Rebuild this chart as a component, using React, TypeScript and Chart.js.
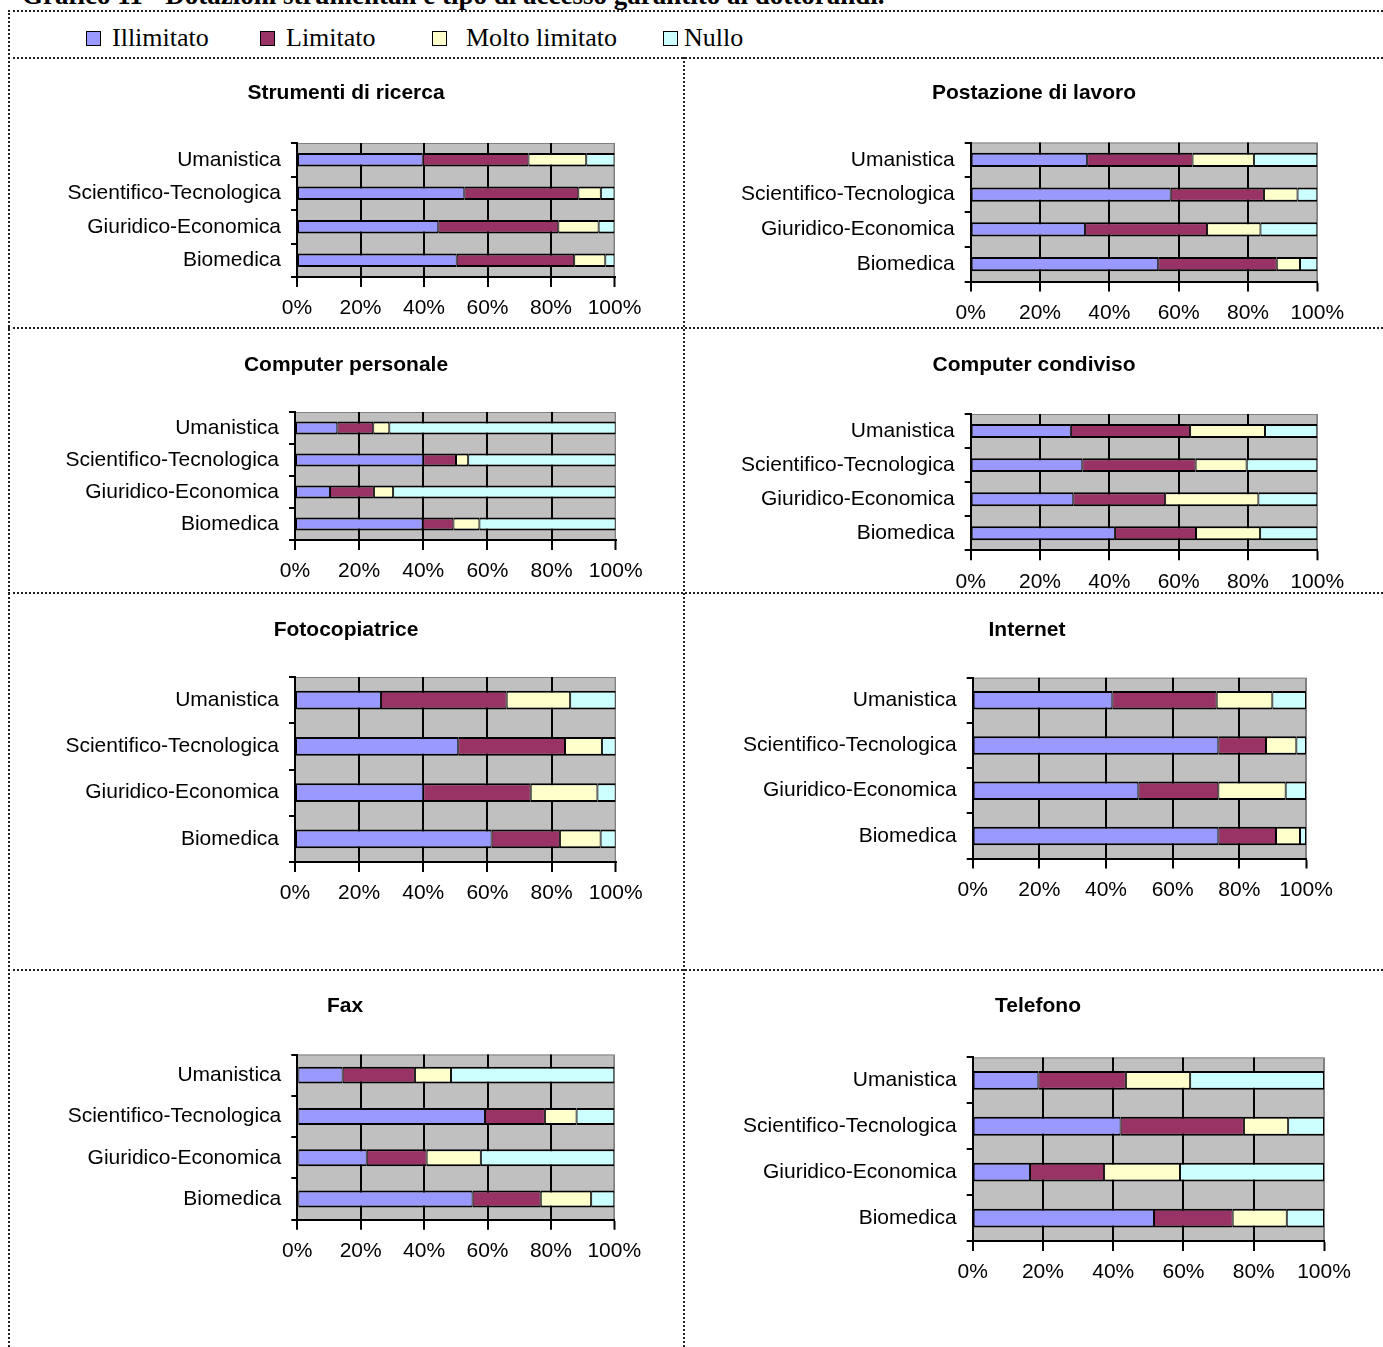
import React, { useEffect, useRef } from 'react';
import { Chart, registerables } from 'chart.js';

Chart.register(...registerables);

// ---------------- DATA ----------------
const categories = ['Umanistica', 'Scientifico-Tecnologica', 'Giuridico-Economica', 'Biomedica'];
const seriesNames = ['Illimitato', 'Limitato', 'Molto limitato', 'Nullo'];
const xTickValues = [0, 20, 40, 60, 80, 100];

const strumentiIllimitato = [39.6, 52.7, 44.5, 50.3];
const strumentiLimitato = [33.3, 35.9, 37.8, 37.0];
const strumentiMoltoLimitato = [18.2, 7.1, 12.7, 9.8];
const strumentiNullo = [8.9, 4.3, 5.0, 2.9];

const postazioneIllimitato = [33.6, 57.7, 33.0, 54.1];
const postazioneLimitato = [30.4, 26.9, 35.2, 34.2];
const postazioneMoltoLimitato = [17.7, 9.7, 15.4, 6.7];
const postazioneNullo = [18.3, 5.7, 16.4, 5.0];

const pcPersonaleIllimitato = [13.2, 40.0, 10.9, 39.8];
const pcPersonaleLimitato = [11.2, 10.2, 13.7, 9.6];
const pcPersonaleMoltoLimitato = [5.0, 3.8, 6.0, 8.1];
const pcPersonaleNullo = [70.6, 46.0, 69.4, 42.5];

const pcCondivisoIllimitato = [28.9, 32.2, 29.6, 41.6];
const pcCondivisoLimitato = [34.4, 32.7, 26.5, 23.4];
const pcCondivisoMoltoLimitato = [21.6, 14.7, 26.9, 18.5];
const pcCondivisoNullo = [15.1, 20.4, 17.0, 16.5];

const fotocopiatriceIllimitato = [26.8, 50.9, 40.0, 61.3];
const fotocopiatriceLimitato = [39.2, 33.3, 33.5, 21.3];
const fotocopiatriceMoltoLimitato = [19.8, 11.5, 20.8, 12.7];
const fotocopiatriceNullo = [14.2, 4.3, 5.7, 4.7];

const internetIllimitato = [41.9, 73.7, 49.7, 73.7];
const internetLimitato = [31.3, 14.3, 24.0, 17.3];
const internetMoltoLimitato = [16.7, 9.1, 20.2, 7.2];
const internetNullo = [10.1, 2.9, 6.1, 1.8];

const faxIllimitato = [14.3, 59.2, 21.9, 55.3];
const faxLimitato = [22.8, 18.9, 18.9, 21.5];
const faxMoltoLimitato = [11.4, 10.0, 17.1, 15.9];
const faxNullo = [51.5, 11.9, 42.1, 7.3];

const telefonoIllimitato = [18.7, 42.1, 16.3, 51.6];
const telefonoLimitato = [24.9, 35.1, 21.1, 22.4];
const telefonoMoltoLimitato = [18.3, 12.6, 21.6, 15.4];
const telefonoNullo = [38.1, 10.2, 41.0, 10.6];

const panelTitles = [
  'Strumenti di ricerca',
  'Postazione di lavoro',
  'Computer personale',
  'Computer condiviso',
  'Fotocopiatrice',
  'Internet',
  'Fax',
  'Telefono',
];

const panelSeries = [
  [strumentiIllimitato, strumentiLimitato, strumentiMoltoLimitato, strumentiNullo],
  [postazioneIllimitato, postazioneLimitato, postazioneMoltoLimitato, postazioneNullo],
  [pcPersonaleIllimitato, pcPersonaleLimitato, pcPersonaleMoltoLimitato, pcPersonaleNullo],
  [pcCondivisoIllimitato, pcCondivisoLimitato, pcCondivisoMoltoLimitato, pcCondivisoNullo],
  [fotocopiatriceIllimitato, fotocopiatriceLimitato, fotocopiatriceMoltoLimitato, fotocopiatriceNullo],
  [internetIllimitato, internetLimitato, internetMoltoLimitato, internetNullo],
  [faxIllimitato, faxLimitato, faxMoltoLimitato, faxNullo],
  [telefonoIllimitato, telefonoLimitato, telefonoMoltoLimitato, telefonoNullo],
];

// ---------------- STYLE / LAYOUT ----------------
const seriesColors = ['#9999ff', '#993366', '#ffffcc', '#ccffff'];
const SANS = '"Liberation Sans", Arial, Helvetica, sans-serif';
const SERIF = '"Liberation Serif", "Times New Roman", serif';
const Y_AXIS_W = 240;
const X_AXIS_H = 48;

// cell: [left, top, width, height]; plot: [left, top, right, bottom]; titleAt: [cx, cy]
const panelLayouts = [
  { cell: [10, 60, 673, 268], plot: [297, 143, 614.5, 277], titleAt: [346, 93] },
  { cell: [685, 60, 698, 268], plot: [970.7, 142.5, 1317.3, 281.5], titleAt: [1034, 93] },
  { cell: [10, 330, 673, 263], plot: [295, 412, 615.7, 540], titleAt: [346, 365] },
  { cell: [685, 330, 698, 263], plot: [970.7, 414, 1317.3, 550.3], titleAt: [1034, 365] },
  { cell: [10, 595, 673, 374], plot: [295, 677, 615.7, 862], titleAt: [346, 630] },
  { cell: [685, 595, 698, 374], plot: [972.7, 677.7, 1306, 858.5], titleAt: [1027, 630] },
  { cell: [10, 972, 673, 375], plot: [297.3, 1054.5, 614.3, 1219.7], titleAt: [345, 1006] },
  { cell: [685, 972, 698, 375], plot: [972.7, 1057.4, 1324, 1241], titleAt: [1038, 1006] },
];

const plotBgPlugin = {
  id: 'plotBg',
  beforeDraw(chart: any) {
    const { ctx, chartArea: a } = chart;
    ctx.save();
    ctx.fillStyle = '#c0c0c0';
    ctx.fillRect(a.left, a.top, a.right - a.left, a.bottom - a.top);
    ctx.strokeStyle = '#808080';
    ctx.lineWidth = 1;
    ctx.beginPath();
    ctx.moveTo(a.left, a.top + 0.5);
    ctx.lineTo(a.right - 0.5, a.top + 0.5);
    ctx.lineTo(a.right - 0.5, a.bottom);
    ctx.stroke();
    ctx.restore();
  },
};

const panelTitlePlugin = {
  id: 'panelTitle',
  afterDraw(chart: any, _args: any, opts: any) {
    const ctx = chart.ctx;
    ctx.save();
    ctx.font = `bold 21px ${SANS}`;
    ctx.fillStyle = '#000';
    ctx.textAlign = 'center';
    ctx.textBaseline = 'middle';
    ctx.fillText(opts.text, opts.x, opts.y);
    ctx.restore();
  },
};

function PanelChart({ index }: { index: number }) {
  const ref = useRef<HTMLCanvasElement | null>(null);
  const layout = panelLayouts[index];
  const [cl, ct, cw, ch] = layout.cell;

  useEffect(() => {
    if (!ref.current) return;
    const [pl, pt, pr, pb] = layout.plot;
    const chart = new Chart(ref.current, {
      type: 'bar',
      data: {
        labels: categories,
        datasets: seriesNames.map((name, i) => ({
          label: name,
          data: panelSeries[index][i],
          backgroundColor: seriesColors[i],
          borderColor: '#000',
          borderWidth: { top: 2, bottom: 2, left: 1, right: 1 },
          borderSkipped: false,
          barPercentage: 0.41,
          categoryPercentage: 1,
        })),
      },
      options: {
        indexAxis: 'y',
        animation: false,
        responsive: false,
        devicePixelRatio: 1,
        layout: {
          padding: {
            left: pl - cl - Y_AXIS_W,
            right: cl + cw - pr,
            top: pt - ct,
            bottom: ct + ch - pb - X_AXIS_H,
          },
        },
        plugins: {
          legend: { display: false },
          tooltip: { enabled: false },
          panelTitle: { text: panelTitles[index], x: layout.titleAt[0] - cl, y: layout.titleAt[1] - ct },
        } as any,
        scales: {
          x: {
            stacked: true,
            min: 0,
            max: 100,
            afterBuildTicks: (s: any) => {
              s.ticks = xTickValues.map((v) => ({ value: v }));
            },
            afterFit: (s: any) => {
              s.height = X_AXIS_H;
            },
            ticks: {
              callback: (v: any) => `${v}%`,
              color: '#000',
              font: { family: SANS, size: 21 },
              padding: 9,
              maxRotation: 0,
              autoSkip: false,
            },
            grid: {
              color: (c: any) => (c.tick && c.tick.value === 100 ? '#808080' : '#000'),
              lineWidth: (c: any) => (c.tick && c.tick.value === 100 ? 1 : 2),
              tickColor: '#000',
              tickWidth: 2,
              tickLength: 10,
            },
            border: { display: true, color: '#000', width: 2 },
          },
          y: {
            stacked: true,
            afterFit: (s: any) => {
              s.width = Y_AXIS_W;
            },
            ticks: {
              color: '#000',
              font: { family: SANS, size: 21 },
              padding: 10,
              autoSkip: false,
            },
            grid: {
              offset: true,
              drawOnChartArea: false,
              color: '#000',
              lineWidth: 2,
              tickLength: 6,
            },
            border: { display: true, color: '#000', width: 2 },
          },
        },
      } as any,
      plugins: [plotBgPlugin, panelTitlePlugin],
    });
    return () => chart.destroy();
  }, [index]);

  return (
    <canvas
      ref={ref}
      width={cw}
      height={ch}
      style={{ position: 'absolute', left: cl, top: ct, width: cw, height: ch }}
    />
  );
}

const dotted = '2px dotted #222';

function Legend() {
  const items = [
    { box: 86, text: 112 },
    { box: 260, text: 286 },
    { box: 432, text: 466 },
    { box: 663, text: 684 },
  ];
  return (
    <>
      {seriesNames.map((name, i) => (
        <React.Fragment key={name}>
          <div
            style={{
              position: 'absolute',
              left: items[i].box,
              top: 31,
              width: 13,
              height: 13,
              background: seriesColors[i],
              border: '1.5px solid #000',
            }}
          />
          <div
            style={{
              position: 'absolute',
              left: items[i].text,
              top: 23,
              fontFamily: SERIF,
              fontSize: 26,
              lineHeight: '30px',
              color: '#000',
              whiteSpace: 'nowrap',
            }}
          >
            {name}
          </div>
        </React.Fragment>
      ))}
    </>
  );
}

export default function App() {
  return (
    <div
      style={{
        position: 'absolute',
        left: 0,
        top: 0,
        width: 1383,
        height: 1347,
        overflow: 'hidden',
        background: '#fff',
      }}
    >
      <div
        style={{
          position: 'absolute',
          left: 22,
          top: -20,
          fontFamily: SERIF,
          fontWeight: 'bold',
          fontSize: 27,
          lineHeight: '30px',
          whiteSpace: 'nowrap',
          color: '#000',
        }}
      >
        Grafico 11 - Dotazioni strumentali e tipo di accesso garantito ai dottorandi.
      </div>
      <Legend />
      {panelLayouts.map((_, i) => (
        <PanelChart key={i} index={i} />
      ))}
      {/* frame lines */}
      <div style={{ position: 'absolute', left: 8, top: 10, width: 1375, borderTop: dotted }} />
      <div style={{ position: 'absolute', left: 8, top: 10, height: 1337, borderLeft: dotted }} />
      <div style={{ position: 'absolute', left: 8, top: 57, width: 1375, borderTop: dotted }} />
      <div style={{ position: 'absolute', left: 683, top: 57, height: 1290, borderLeft: dotted }} />
      <div style={{ position: 'absolute', left: 8, top: 327, width: 1375, borderTop: dotted }} />
      <div style={{ position: 'absolute', left: 8, top: 592, width: 1375, borderTop: dotted }} />
      <div style={{ position: 'absolute', left: 8, top: 969, width: 1375, borderTop: dotted }} />
    </div>
  );
}
